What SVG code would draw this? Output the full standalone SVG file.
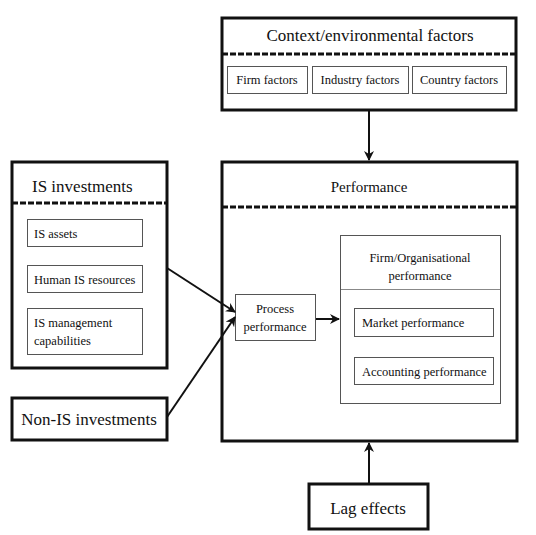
<svg xmlns="http://www.w3.org/2000/svg" width="536" height="535" viewBox="0 0 536 535">
<defs>
<marker id="ah" viewBox="0 0 10 10" refX="9" refY="5" markerWidth="5" markerHeight="5" orient="auto" markerUnits="strokeWidth">
<path d="M0,0 L10,5 L0,10 L3,5 z" fill="#111"/>
</marker>
</defs>
<rect width="536" height="535" fill="#fff"/>
<g font-family="Liberation Serif" fill="#111">
<g id="context">
<rect x="222" y="18" width="294" height="92" fill="#fff" stroke="#111" stroke-width="3"/>
<line x1="222" y1="54" x2="516" y2="54" stroke="#111" stroke-width="3" stroke-dasharray="6 2"/>
<text x="370" y="41" font-size="17" text-anchor="middle">Context/environmental factors</text>
<g id="firm-factors"><rect x="227.5" y="66.5" width="80" height="27" fill="#fff" stroke="#555"/><text x="267" y="84" font-size="12.5" text-anchor="middle">Firm factors</text></g>
<g id="industry-factors"><rect x="312.5" y="66.5" width="96" height="27" fill="#fff" stroke="#555"/><text x="360" y="84" font-size="12.5" text-anchor="middle">Industry factors</text></g>
<g id="country-factors"><rect x="412.5" y="66.5" width="94" height="27" fill="#fff" stroke="#555"/><text x="459" y="84" font-size="12.5" text-anchor="middle">Country factors</text></g>
</g>
<g id="is-investments">
<rect x="12" y="162" width="155" height="206" fill="#fff" stroke="#111" stroke-width="3"/>
<line x1="12" y1="203" x2="167" y2="203" stroke="#111" stroke-width="3" stroke-dasharray="6 2"/>
<text x="32" y="192" font-size="17">IS investments</text>
<g id="is-assets"><rect x="27.5" y="219.5" width="115" height="27" fill="#fff" stroke="#555"/><text x="34" y="238" font-size="12.5">IS assets</text></g>
<g id="human-is"><rect x="27.5" y="265.5" width="115" height="27" fill="#fff" stroke="#555"/><text x="34" y="284" font-size="12.5">Human IS resources</text></g>
<g id="is-mgmt"><rect x="27.5" y="308.5" width="115" height="46" fill="#fff" stroke="#555"/><text x="34" y="327" font-size="12.5">IS management</text><text x="34" y="345" font-size="12.5">capabilities</text></g>
</g>
<g id="non-is">
<rect x="12" y="398" width="155" height="42" fill="#fff" stroke="#111" stroke-width="3"/>
<text x="89" y="425" font-size="17" text-anchor="middle">Non-IS investments</text>
</g>
<g id="performance">
<rect x="222" y="162" width="295" height="279" fill="#fff" stroke="#111" stroke-width="3"/>
<line x1="222" y1="207" x2="517" y2="207" stroke="#111" stroke-width="3" stroke-dasharray="6 2"/>
<text x="369" y="192" font-size="15" text-anchor="middle">Performance</text>
<g id="firm-org">
<rect x="340.5" y="235.5" width="160" height="168" fill="#fff" stroke="#555"/>
<line x1="341" y1="289.5" x2="500" y2="289.5" stroke="#888"/>
<text x="420" y="262" font-size="12.5" text-anchor="middle">Firm/Organisational</text>
<text x="420" y="280" font-size="12.5" text-anchor="middle">performance</text>
<g id="market"><rect x="354.5" y="308.5" width="139" height="28" fill="#fff" stroke="#555"/><text x="362" y="327" font-size="12.5">Market performance</text></g>
<g id="accounting"><rect x="354.5" y="357.5" width="139" height="27" fill="#fff" stroke="#555"/><text x="362" y="376" font-size="12.5">Accounting performance</text></g>
</g>
<g id="process"><rect x="235.5" y="294.5" width="80" height="46" fill="#fff" stroke="#555"/><text x="275" y="313" font-size="12.5" text-anchor="middle">Process</text><text x="275" y="331" font-size="12.5" text-anchor="middle">performance</text></g>
</g>
<g id="lag">
<rect x="309" y="484" width="119" height="45" fill="#fff" stroke="#111" stroke-width="3"/>
<text x="368" y="514" font-size="17" text-anchor="middle">Lag effects</text>
</g>
</g>
<g id="connectors" stroke="#111" stroke-width="2" fill="none" marker-end="url(#ah)">
<line x1="369" y1="110" x2="369" y2="160"/>
<line x1="369" y1="484" x2="369" y2="443"/>
<line x1="167" y1="268" x2="235" y2="312"/>
<line x1="167" y1="417" x2="235" y2="317"/>
<line x1="316" y1="319" x2="339" y2="319"/>
</g>
</svg>
